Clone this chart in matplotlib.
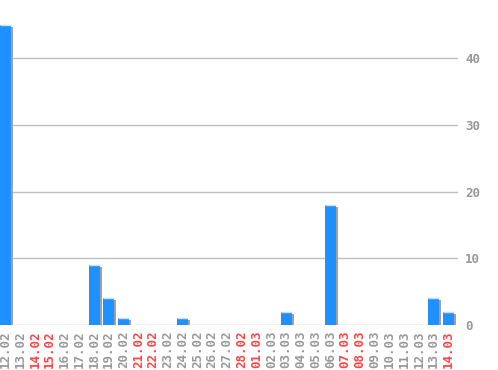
import numpy as np
import matplotlib.pyplot as plt
from matplotlib import transforms

dates = ["12.02", "13.02", "14.02", "15.02", "16.02", "17.02", "18.02", "19.02",
         "20.02", "21.02", "22.02", "23.02", "24.02", "25.02", "26.02", "27.02",
         "28.02", "01.03", "02.03", "03.03", "04.03", "05.03", "06.03", "07.03",
         "08.03", "09.03", "10.03", "11.03", "12.03", "13.03", "14.03"]
counts = [45, 0, 0, 0, 0, 0, 9, 4, 1, 0, 0, 0, 1, 0, 0, 0,
          0, 0, 0, 2, 0, 0, 18, 0, 0, 0, 0, 0, 0, 4, 2]
red_days = ["14.02", "15.02", "21.02", "22.02", "28.02", "01.03", "07.03", "08.03", "14.03"]

fig = plt.figure(figsize=(4.98, 3.70), dpi=100)
ax = fig.add_axes([0, 45 / 370, 458 / 498, 325 / 370])

x = np.arange(len(dates))
w = 0.75

# shadow, shifted 2px right / down
shift = transforms.ScaledTranslation(2 / 100, -2 / 100, fig.dpi_scale_trans)
ax.bar(x, counts, width=w, color="#a0a0a0", transform=ax.transData + shift, zorder=2)
ax.bar(x, counts, width=w, color="#1e90ff", zorder=3)
nz = [i for i, c in enumerate(counts) if c > 0]
ax.hlines([counts[i] for i in nz], [i - w / 2 for i in nz], [i + w / 2 for i in nz],
          color="#c8e2ff", lw=1, zorder=4)
# baseline made of the flat shadows of empty days
ax.hlines([0] * len(x), x - w / 2 + 0.1, x + w / 2 + 0.15, color="#a8a8a8", lw=1.5,
          zorder=1, transform=ax.transData + shift)

ax.set_xlim(-0.37, len(dates) - 1 + 0.64)
ax.set_ylim(0, 48.7)
ax.set_yticks([0, 10, 20, 30, 40])
ax.yaxis.tick_right()
ax.grid(axis="y", color="#c0c0c0", lw=1, zorder=0)
ax.set_axisbelow(True)
for s in ax.spines.values():
    s.set_visible(False)

ax.set_xticks(x)
ax.set_xticklabels(dates, rotation=90, family="DejaVu Sans Mono", fontsize=9,
                   fontweight="bold", va="top")
for lbl in ax.get_xticklabels():
    lbl.set_color("#ff4444" if lbl.get_text() in red_days else "#999999")
for lbl in ax.get_yticklabels():
    lbl.set_family("DejaVu Sans Mono")
    lbl.set_fontweight("bold")
    lbl.set_fontsize(9)
    lbl.set_color("#999999")
ax.tick_params(length=0)
ax.tick_params(axis="x", pad=4)
ax.tick_params(axis="y", pad=5)

plt.savefig("out.png", dpi=100)
